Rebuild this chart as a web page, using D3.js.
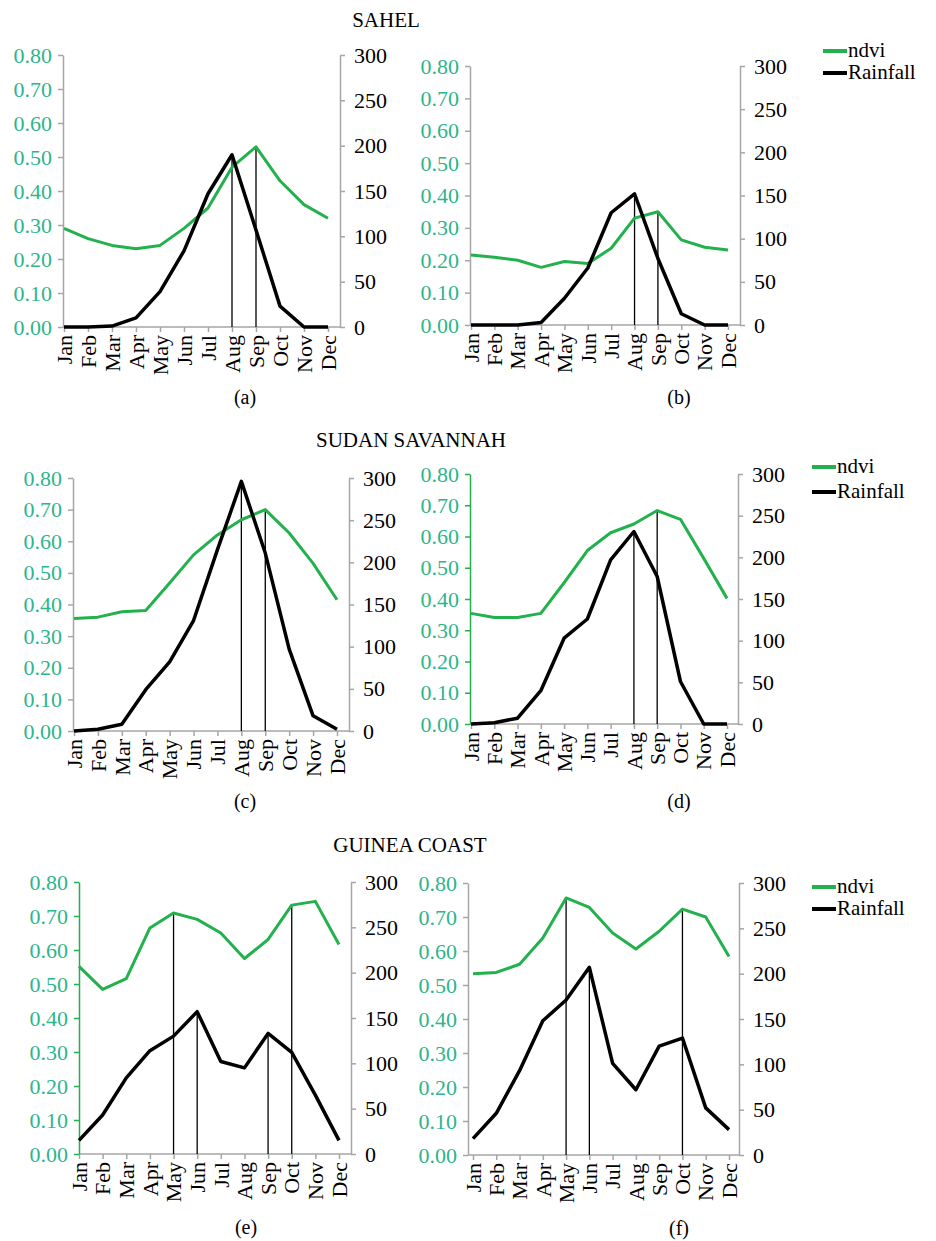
<!DOCTYPE html>
<html>
<head>
<meta charset="utf-8">
<script src="https://cdn.jsdelivr.net/npm/d3@7"></script>
<style>
  body { margin: 0; background: #fff; }
  svg text { font-family: "Liberation Serif", "Times New Roman", serif !important; }
</style>
</head>
<body>
<svg width="936" height="1241"></svg>
<script>
// meses
var months = ["Jan","Feb","Mar","Apr","May","Jun","Jul","Aug","Sep","Oct","Nov","Dec"];
var ndviTicks = [0, 0.1, 0.2, 0.3, 0.4, 0.5, 0.6, 0.7, 0.8];
var rainTicks = [0, 50, 100, 150, 200, 250, 300];

// Sahel
var ndviA = [0.29, 0.26, 0.24, 0.23, 0.24, 0.29, 0.35, 0.47, 0.53, 0.43, 0.36, 0.32];
var rainA = [0, 0, 1, 10, 39, 84, 147, 190, 107, 23, 0, 0];
var ndviB = [0.216, 0.209, 0.20, 0.178, 0.196, 0.19, 0.237, 0.33, 0.35, 0.263, 0.24, 0.232];
var rainB = [0, 0, 0, 3, 31, 66, 130, 152, 77, 13, 0, 0];
// Sudan savannah
var ndviC = [0.356, 0.36, 0.377, 0.381, 0.468, 0.557, 0.62, 0.668, 0.70, 0.626, 0.53, 0.415];
var rainC = [0, 2, 8, 49, 82, 131, 215, 296, 211, 97, 18, 2];
var ndviD = [0.354, 0.341, 0.341, 0.354, 0.452, 0.555, 0.612, 0.64, 0.683, 0.655, 0.53, 0.402];
var rainD = [0, 1.5, 7, 40, 103, 126, 197, 231, 177, 51, 0, 0];
// Guinea coast
var ndviE = [0.552, 0.484, 0.516, 0.665, 0.709, 0.69, 0.65, 0.575, 0.631, 0.732, 0.743, 0.616];
var rainE = [15, 43, 84, 114, 130, 157, 102, 95, 133, 112, 65, 15];
var ndviF = [0.533, 0.537, 0.561, 0.638, 0.756, 0.728, 0.653, 0.606, 0.658, 0.723, 0.70, 0.584];
var rainF = [18, 46, 93, 148, 171, 207, 101, 72, 120, 129, 52, 28];

// linhas verticais (mes, serie)
var dropA = [["Aug", "rain"], ["Sep", "ndvi"]];
var dropB = [["Aug", "rain"], ["Sep", "ndvi"]];
var dropC = [["Aug", "rain"], ["Sep", "ndvi"]];
var dropD = [["Aug", "rain"], ["Sep", "ndvi"]];
var dropE = [["May", "ndvi"], ["Jun", "rain"], ["Sep", "rain"], ["Oct", "ndvi"]];
var dropF = [["May", "ndvi"], ["Jun", "rain"], ["Oct", "ndvi"]];

var titles = [["SAHEL", 386, 27], ["SUDAN SAVANNAH", 411, 447], ["GUINEA COAST", 410, 852]];
var legendNames = ["ndvi", "Rainfall"];

var green = "#22b14c";
var teal = "#2db58c";
var gray = "#a6a6a6";
var serif = "'Liberation Serif', 'Times New Roman', serif";

var svg = d3.select("svg");

function drawPanel(p) {
    var g = svg.append("g");
    var x = d3.scalePoint().domain(months).range([p.jan, p.dec]);
    var yL = d3.scaleLinear().domain([0, 0.8]).range([p.bottom, p.top]);
    var yR = d3.scaleLinear().domain([0, 300]).range([p.bottom, p.top]);

    // eixo x
    g.append("line").attr("x1", p.left).attr("x2", p.right)
        .attr("y1", p.bottom).attr("y2", p.bottom)
        .attr("stroke", gray).attr("stroke-width", 1.5);
    var ax = g.append("g").attr("transform", "translate(0," + p.bottom + ")")
        .call(d3.axisBottom(x).tickSize(5).tickSizeOuter(0));
    ax.attr("font-family", serif);
    ax.select(".domain").remove();
    ax.selectAll("line").attr("stroke", gray).attr("stroke-width", 1.5);
    ax.selectAll("text")
        .attr("transform", "rotate(-90)")
        .attr("x", -8).attr("y", 0).attr("dy", "0.33em")
        .attr("text-anchor", "end")
        .attr("fill", "#000")
        .style("font-family", serif)
        .style("font-size", "22px");

    // eixo esquerdo
    var al = g.append("g").attr("transform", "translate(" + p.left + ",0)")
        .call(d3.axisLeft(yL).tickValues(ndviTicks).tickFormat(d3.format(".2f")).tickSize(5).tickSizeOuter(0).tickPadding(6));
    al.attr("font-family", serif);
    al.selectAll("path, line").attr("stroke", p.leftColor).attr("stroke-width", 1.5);
    al.selectAll("text").attr("fill", teal).style("font-family", serif).style("font-size", "22px");

    // eixo direito
    var ar = g.append("g").attr("transform", "translate(" + p.right + ",0)")
        .call(d3.axisRight(yR).tickValues(rainTicks).tickSize(5).tickSizeOuter(0).tickPadding(9));
    ar.attr("font-family", serif);
    ar.selectAll("path, line").attr("stroke", gray).attr("stroke-width", 1.5);
    ar.selectAll("text").attr("fill", "#000").style("font-family", serif).style("font-size", "22px");

    // linhas verticais
    p.drops.forEach(function (d) {
        var i = months.indexOf(d[0]);
        var yTop = d[1] === "rain" ? yR(p.rain[i]) : yL(p.ndvi[i]);
        g.append("line").attr("x1", x(d[0])).attr("x2", x(d[0]))
            .attr("y1", yTop).attr("y2", p.bottom)
            .attr("stroke", "#000").attr("stroke-width", 1.3);
    });

    var lineN = d3.line().x(function (d, i) { return x(months[i]); }).y(function (d) { return yL(d); });
    var lineR = d3.line().x(function (d, i) { return x(months[i]); }).y(function (d) { return yR(d); });
    g.append("path").attr("d", lineN(p.ndvi)).attr("fill", "none")
        .attr("stroke", green).attr("stroke-width", 3).attr("stroke-linejoin", "round");
    g.append("path").attr("d", lineR(p.rain)).attr("fill", "none")
        .attr("stroke", "#000").attr("stroke-width", 3.5).attr("stroke-linejoin", "round");

    // legenda
    if (p.legend) {
        legendNames.forEach(function (name, i) {
            var ly = p.legend[1] + i * p.legend[2];
            g.append("line").attr("x1", p.legend[0]).attr("x2", p.legend[0] + 24)
                .attr("y1", ly).attr("y2", ly)
                .attr("stroke", i === 0 ? green : "#000").attr("stroke-width", 4);
            g.append("text").attr("x", p.legend[0] + 25).attr("y", ly + 6)
                .style("font-family", serif).style("font-size", "21px").text(name);
        });
    }

    svg.append("text").attr("x", p.cap[0]).attr("y", p.cap[1] + 6)
        .attr("text-anchor", "middle").style("font-family", serif).style("font-size", "20px").text(p.label);
}

drawPanel({ label: "(a)", ndvi: ndviA, rain: rainA, drops: dropA, left: 63, right: 340, top: 55, bottom: 327, jan: 64, dec: 328, leftColor: gray, cap: [245, 398] });
drawPanel({ label: "(b)", ndvi: ndviB, rain: rainB, drops: dropB, left: 470, right: 740, top: 66, bottom: 325, jan: 471, dec: 728, leftColor: gray, cap: [679, 398], legend: [823, 51, 22] });
drawPanel({ label: "(c)", ndvi: ndviC, rain: rainC, drops: dropC, left: 73, right: 349, top: 478, bottom: 731, jan: 74, dec: 337, leftColor: gray, cap: [245, 802] });
drawPanel({ label: "(d)", ndvi: ndviD, rain: rainD, drops: dropD, left: 470, right: 738, top: 474, bottom: 724, jan: 471, dec: 727, leftColor: green, cap: [679, 802], legend: [812, 467, 25] });
drawPanel({ label: "(e)", ndvi: ndviE, rain: rainE, drops: dropE, left: 79, right: 351, top: 882, bottom: 1154, jan: 79, dec: 339, leftColor: green, cap: [246, 1228] });
drawPanel({ label: "(f)", ndvi: ndviF, rain: rainF, drops: dropF, left: 468, right: 739, top: 883, bottom: 1155, jan: 473, dec: 729, leftColor: gray, cap: [679, 1229], legend: [812, 887, 22] });

titles.forEach(function (t) {
    svg.append("text").attr("x", t[1]).attr("y", t[2]).attr("text-anchor", "middle")
        .style("font-family", serif).style("font-size", "21px").text(t[0]);
});
</script>
</body>
</html>
